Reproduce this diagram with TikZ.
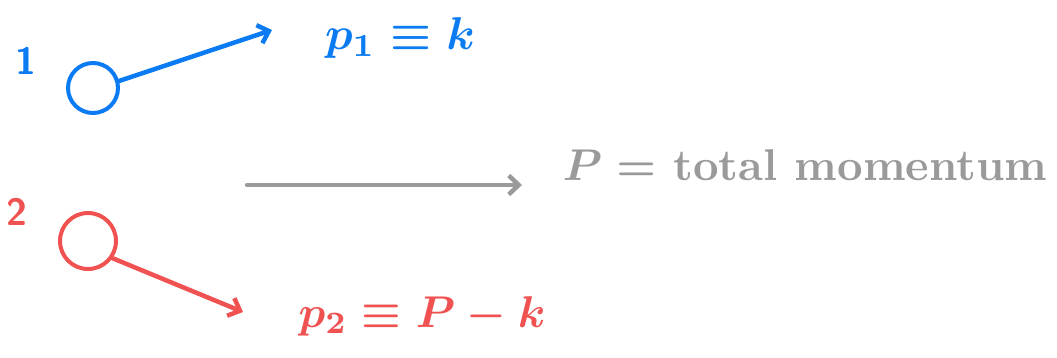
\documentclass[tikz,border=0pt]{standalone}
\usetikzlibrary{arrows.meta}
\definecolor{cblue}{HTML}{0A7BF2}
\definecolor{cred}{HTML}{F05252}
\definecolor{cgray}{HTML}{9A9A9A}
\begin{document}
\begin{tikzpicture}[x=1pt,y=-1pt,
  particle/.style={circle,draw,line width=4pt,minimum size=#1,inner sep=0pt},
  mom/.style={line width=4.5pt,line cap=round,-{Straight Barb[length=10pt,width=19pt,line width=4.5pt]}},
  lab/.style={inner sep=0pt},
  bold/.style={font=\mathversion{bold}\bfseries}]
\useasboundingbox (0,0) rectangle (1057,358);
% particle 1
\node[lab,bold,text=cblue,scale=3.8] (n1) at (26,61) {\sffamily 1};
\node[particle=50pt,draw=cblue] (c1) at (93,88) {};
\coordinate (e1) at (272,30);
\draw[mom,cblue] (c1.15) -- (e1);
\node[lab,bold,text=cblue,scale=4.6] (t1) at (400,38) {$p_1\equiv k$};
% particle 2
\node[lab,bold,text=cred,scale=3.8] (n2) at (17,212) {\sffamily 2};
\node[particle=56pt,draw=cred] (c2) at (88,241) {};
\coordinate (e2) at (243,312);
\draw[mom,cred] (c2.-35) -- (e2);
\node[lab,bold,text=cred,scale=4.45] (t2) at (422,316) {$p_2\equiv P-k$};
% total momentum
\coordinate (g1) at (247,185);
\coordinate (g2) at (522,185);
\draw[mom,cgray] (g1) -- (g2);
\node[lab,bold,text=cgray,scale=4.45] (t3) at (805,165) {$P=$ total momentum};
\end{tikzpicture}
\end{document}
